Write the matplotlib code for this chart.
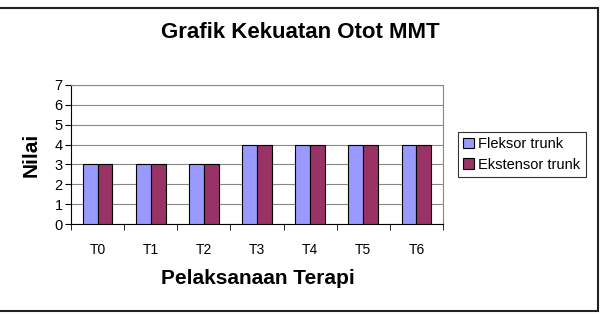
import matplotlib
matplotlib.use("Agg")
import matplotlib.pyplot as plt
import numpy as np
from matplotlib.patches import Rectangle

categories = ["T0", "T1", "T2", "T3", "T4", "T5", "T6"]
fleksor = [3, 3, 3, 4, 4, 4, 4]
ekstensor = [3, 3, 3, 4, 4, 4, 4]

plt.rcParams['font.family'] = ['Liberation Sans', 'DejaVu Sans']

W, H = 604, 314
fig = plt.figure(figsize=(W/100, H/100), dpi=100)
ax = fig.add_axes([71/W, 1-224/H, (443-71)/W, (224-85)/H])

x = np.arange(len(categories))
bw = 0.28
ax.bar(x - bw/2, fleksor, bw, color="#9999FF", edgecolor="black", linewidth=0.8, label="Fleksor trunk", zorder=3)
ax.bar(x + bw/2, ekstensor, bw, color="#993366", edgecolor="black", linewidth=0.8, label="Ekstensor trunk", zorder=3)

ax.set_xlim(-0.5, len(categories) - 0.5)
ax.set_ylim(0, 7)
ax.set_yticks(range(0, 8))
ax.yaxis.grid(True, color="#888888", linewidth=0.8, zorder=0)
ax.set_xticks(x)
ax.set_xticklabels(categories, fontsize=10)
ax.set_xticks(np.arange(-0.5, len(categories)), minor=True)
ax.tick_params(axis='x', which='major', length=0, pad=14)
ax.tick_params(axis='x', which='minor', length=4, direction='out', color='black')
ax.tick_params(axis='y', length=4, direction='out', labelsize=10.5, pad=2)
for s in ['top', 'right']:
    ax.spines[s].set_color('#888888')
    ax.spines[s].set_linewidth(0.8)
for s in ['left', 'bottom']:
    ax.spines[s].set_color('black')
    ax.spines[s].set_linewidth(0.8)

fig.text(300/W, 1-33/H, "Grafik Kekuatan Otot MMT", ha='center', va='center', fontsize=16, fontweight='bold')
fig.text(258/W, 1-279/H, "Pelaksanaan Terapi", ha='center', va='center', fontsize=15, fontweight='bold')
fig.text(31/W, 1-155/H, "Nilai", ha='center', va='center', fontsize=15, fontweight='bold', rotation=90)

leg = fig.legend(loc='upper left', bbox_to_anchor=(458/W, 1-132/H), frameon=True, fancybox=False,
                 fontsize=10.5, handlelength=0.75, handleheight=0.75, handletextpad=0.3,
                 borderpad=0.35, labelspacing=0.45, borderaxespad=0)
leg.get_frame().set_edgecolor('black')
leg.get_frame().set_linewidth(0.8)

# outer chart border
fig.add_artist(Rectangle((-2/W, 1-311/H), 600/W, (311-8)/H, transform=fig.transFigure,
                         fill=False, edgecolor='#222222', linewidth=1.5))

fig.savefig("out.png", dpi=100)
